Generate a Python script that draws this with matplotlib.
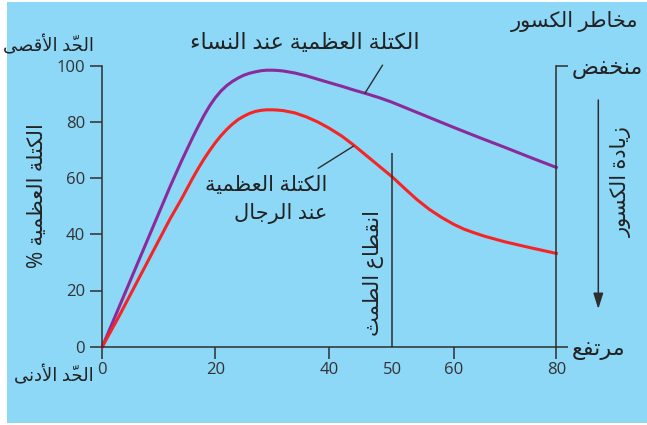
import unicodedata
import numpy as np
import matplotlib
matplotlib.use("Agg")
import matplotlib.pyplot as plt
from matplotlib.patches import Rectangle

# ---- data ----
women_age = [0, 2, 4, 6, 8, 10, 12, 14, 16, 17, 18, 19, 20, 21, 22, 23, 24, 25, 26, 27, 28, 29, 30,
             31, 32, 34, 36, 38, 40, 42, 44, 46, 48, 50, 53, 56, 60, 65, 70, 75, 80]
women_mass = [0, 9.5, 19, 28.5, 38, 47.5, 57, 66, 74.5, 78.5, 82.3, 85.7, 88.6, 91, 92.9, 94.4, 95.6,
              96.6, 97.3, 97.8, 98.2, 98.4, 98.4, 98.3, 98.1, 97.4, 96.4, 95.2, 94, 92.7, 91.3, 90,
              88.6, 87, 84.3, 81.6, 78, 74.4, 70.9, 67.3, 63.8]

men_age = [0, 3, 6, 9, 12, 14, 16, 17, 18, 19, 20, 21, 22, 23, 24, 25, 26, 27, 28, 29, 30, 31, 32,
           34, 36, 38, 40, 42, 44, 46, 48, 50, 52, 54, 56, 58, 60, 62, 64, 66, 70, 75, 80]
men_mass = [0, 11, 22.5, 34, 45.5, 52.5, 60, 63.5, 66.8, 69.8, 72.6, 75.1, 77.3, 79.2, 80.8, 82, 83,
            83.7, 84.1, 84.3, 84.3, 84.2, 84, 83.2, 81.8, 80, 77.8, 75, 71.6, 67.9, 64.2, 60.5,
            56.4, 52.4, 48.9, 46, 43.5, 41.8, 40.5, 39.3, 37.3, 35.2, 33.2]

x_ticks = [0, 20, 40, 50, 60, 80]
y_ticks = [0, 20, 40, 60, 80, 100]
menopause_age = 50
menopause_top = 69

# the drawn age axis is not evenly spaced in the source picture
age_knots = [0, 20, 40, 50, 60, 80]
pos_knots = [102.3, 215.3, 329.0, 392.0, 454.0, 556.3]

BG = "#8dd7f7"
AX = "#2e2e2e"
PURPLE = "#8a2a9b"
RED = "#f52525"

# ---- minimal arabic shaping (presentation forms + visual order) ----
FORMS = {
    'ء': ('\ufe80',), 'آ': ('\ufe81', '\ufe82'), 'أ': ('\ufe83', '\ufe84'),
    'ؤ': ('\ufe85', '\ufe86'), 'إ': ('\ufe87', '\ufe88'),
    'ئ': ('\ufe89', '\ufe8a', '\ufe8b', '\ufe8c'), 'ا': ('\ufe8d', '\ufe8e'),
    'ب': ('\ufe8f', '\ufe90', '\ufe91', '\ufe92'), 'ة': ('\ufe93', '\ufe94'),
    'ت': ('\ufe95', '\ufe96', '\ufe97', '\ufe98'), 'ث': ('\ufe99', '\ufe9a', '\ufe9b', '\ufe9c'),
    'ج': ('\ufe9d', '\ufe9e', '\ufe9f', '\ufea0'), 'ح': ('\ufea1', '\ufea2', '\ufea3', '\ufea4'),
    'خ': ('\ufea5', '\ufea6', '\ufea7', '\ufea8'), 'د': ('\ufea9', '\ufeaa'),
    'ذ': ('\ufeab', '\ufeac'), 'ر': ('\ufead', '\ufeae'), 'ز': ('\ufeaf', '\ufeb0'),
    'س': ('\ufeb1', '\ufeb2', '\ufeb3', '\ufeb4'), 'ش': ('\ufeb5', '\ufeb6', '\ufeb7', '\ufeb8'),
    'ص': ('\ufeb9', '\ufeba', '\ufebb', '\ufebc'), 'ض': ('\ufebd', '\ufebe', '\ufebf', '\ufec0'),
    'ط': ('\ufec1', '\ufec2', '\ufec3', '\ufec4'), 'ظ': ('\ufec5', '\ufec6', '\ufec7', '\ufec8'),
    'ع': ('\ufec9', '\ufeca', '\ufecb', '\ufecc'), 'غ': ('\ufecd', '\ufece', '\ufecf', '\ufed0'),
    'ف': ('\ufed1', '\ufed2', '\ufed3', '\ufed4'), 'ق': ('\ufed5', '\ufed6', '\ufed7', '\ufed8'),
    'ك': ('\ufed9', '\ufeda', '\ufedb', '\ufedc'), 'ل': ('\ufedd', '\ufede', '\ufedf', '\ufee0'),
    'م': ('\ufee1', '\ufee2', '\ufee3', '\ufee4'), 'ن': ('\ufee5', '\ufee6', '\ufee7', '\ufee8'),
    'ه': ('\ufee9', '\ufeea', '\ufeeb', '\ufeec'), 'و': ('\ufeed', '\ufeee'),
    'ى': ('\ufeef', '\ufef0'), 'ي': ('\ufef1', '\ufef2', '\ufef3', '\ufef4'),
}
LAM_ALEF = {'آ': ('\ufef5', '\ufef6'), 'أ': ('\ufef7', '\ufef8'),
            'إ': ('\ufef9', '\ufefa'), 'ا': ('\ufefb', '\ufefc')}


def ar(text):
    if '\n' in text:
        return '\n'.join(ar(t) for t in text.split('\n'))
    units = []
    for ch in text:
        if unicodedata.combining(ch) and units:
            units[-1][1] += ch
        elif units and units[-1][0] == 'ل' and not units[-1][1] and ch in LAM_ALEF:
            units[-1][0] = 'ل' + ch
        else:
            units.append([ch, ''])

    def forms(u):
        if len(u) == 2:
            return LAM_ALEF[u[1]]
        return FORMS.get(u)

    out = []
    for i, (u, m) in enumerate(units):
        f = forms(u)
        if f is None:
            out.append(u + m)
            continue
        prev = forms(units[i - 1][0]) if i > 0 else None
        nxt = forms(units[i + 1][0]) if i + 1 < len(units) else None
        jp = prev is not None and len(prev) == 4 and len(f) >= 2
        jn = nxt is not None and len(f) == 4 and len(nxt) >= 2
        if jp and jn:
            g = f[3]
        elif jp:
            g = f[1]
        elif jn:
            g = f[2]
        else:
            g = f[0]
        out.append(g + m)
    return ''.join(reversed(out))


plt.rcParams['font.family'] = ['Open Sans', 'DejaVu Sans']

W, H = 647, 425
fig = plt.figure(figsize=(W / 100, H / 100), dpi=100)
fig.patch.set_facecolor('white')
fig.add_artist(Rectangle((7 / W, 2 / H), 1, 421 / H, transform=fig.transFigure,
                         facecolor=BG, edgecolor='none', zorder=-10))


def fx(x):
    return x / W


def fy(y):
    return 1 - y / H


ax = fig.add_axes([fx(pos_knots[0]), fy(346.7), (pos_knots[-1] - pos_knots[0]) / W, 281 / H])
ax.set_facecolor('none')
ax.set_xscale('function', functions=(lambda a: np.interp(a, age_knots, pos_knots),
                                     lambda p: np.interp(p, pos_knots, age_knots)))
ax.set_xlim(0, 80)
ax.set_ylim(0, 100)

ax.plot(women_age, women_mass, color=PURPLE, lw=2.2, clip_on=False, solid_joinstyle='round')
ax.plot(men_age, men_mass, color=RED, lw=2.2, clip_on=False, solid_joinstyle='round')
ax.vlines(menopause_age, 0, menopause_top, color=AX, lw=1.1)

for s in ['top', 'right']:
    ax.spines[s].set_visible(False)
ax.spines['left'].set_bounds(0, 100)
ax.spines['bottom'].set_bounds(0, 80)
for s in ['left', 'bottom']:
    ax.spines[s].set_color(AX)
    ax.spines[s].set_linewidth(1.1)

ax.set_xticks(x_ticks)
ax.set_xticklabels([str(t) for t in x_ticks])
ax.set_yticks(y_ticks)
ax.set_yticklabels([str(t) for t in y_ticks])
ax.tick_params(axis='both', direction='out', length=8.8, width=1.1, color=AX,
               labelcolor='#333333', labelsize=12)
ax.tick_params(axis='x', pad=2.5)
ax.tick_params(axis='y', pad=3.5)
ax.xaxis.get_major_ticks()[3].tick1line.set_visible(False)

# right scale: fracture risk
rx = ax.twinx()
rx.set_ylim(0, 100)
for s in ['top', 'left', 'bottom']:
    rx.spines[s].set_visible(False)
rx.spines['right'].set_bounds(0, 100)
rx.spines['right'].set_color(AX)
rx.spines['right'].set_linewidth(1.1)
rx.set_yticks([0, 100])
rx.set_yticklabels([ar('مرتفع'), ar('منخفض')])
rx.tick_params(axis='y', direction='out', length=8.8, width=1.1, color=AX,
               labelcolor='#222222', labelsize=16, pad=2)

# leader lines
ax.annotate('', xy=(45.7, 90.2), xytext=(48.5, 100.2),
            arrowprops=dict(arrowstyle='-', color=AX, lw=1.0, shrinkA=0, shrinkB=0),
            annotation_clip=False)
ax.annotate('', xy=(43.9, 71.4), xytext=(38.1, 63.5),
            arrowprops=dict(arrowstyle='-', color=AX, lw=1.0, shrinkA=0, shrinkB=0))

# arrow: increasing fractures
ax.annotate('', xy=(fx(598.3), fy(309)), xytext=(fx(598.3), fy(100)),
            xycoords='figure fraction', textcoords='figure fraction',
            arrowprops=dict(arrowstyle='-|>,head_length=0.95,head_width=0.3',
                            color=AX, lw=1.1, mutation_scale=10, shrinkA=0, shrinkB=0))

TXT = '#222222'
fig.text(fx(48), fy(45), ar('الحدّ الأقصى'), ha='center', va='center', fontsize=13, color=TXT)
fig.text(fx(94), fy(375), ar('الحدّ الأدنى'), ha='right', va='center', fontsize=13, color=TXT)
fig.text(fx(305), fy(44), ar('الكتلة العظمية عند النساء'), ha='center', va='center',
         fontsize=16, color=TXT)
fig.text(fx(327), fy(186), ar('الكتلة العظمية'), ha='right', va='center', fontsize=15, color=TXT)
fig.text(fx(327), fy(213), ar('عند الرجال'), ha='right', va='center', fontsize=15, color=TXT)
fig.text(fx(373), fy(273), ar('انقطاع الطمث'), ha='center', va='center', rotation=90,
         fontsize=15, color=TXT)
fig.text(fx(621), fy(182), ar('زيادة الكسور'), ha='center', va='center', rotation=90,
         fontsize=15, color=TXT)
fig.text(fx(575), fy(22), ar('مخاطر الكسور'), ha='center', va='center', fontsize=15, color=TXT)
fig.text(fx(37), fy(196), ar('الكتلة العظمية %'), ha='center', va='center', rotation=90,
         fontsize=15, color=TXT)

fig.savefig('out.png', dpi=100)
